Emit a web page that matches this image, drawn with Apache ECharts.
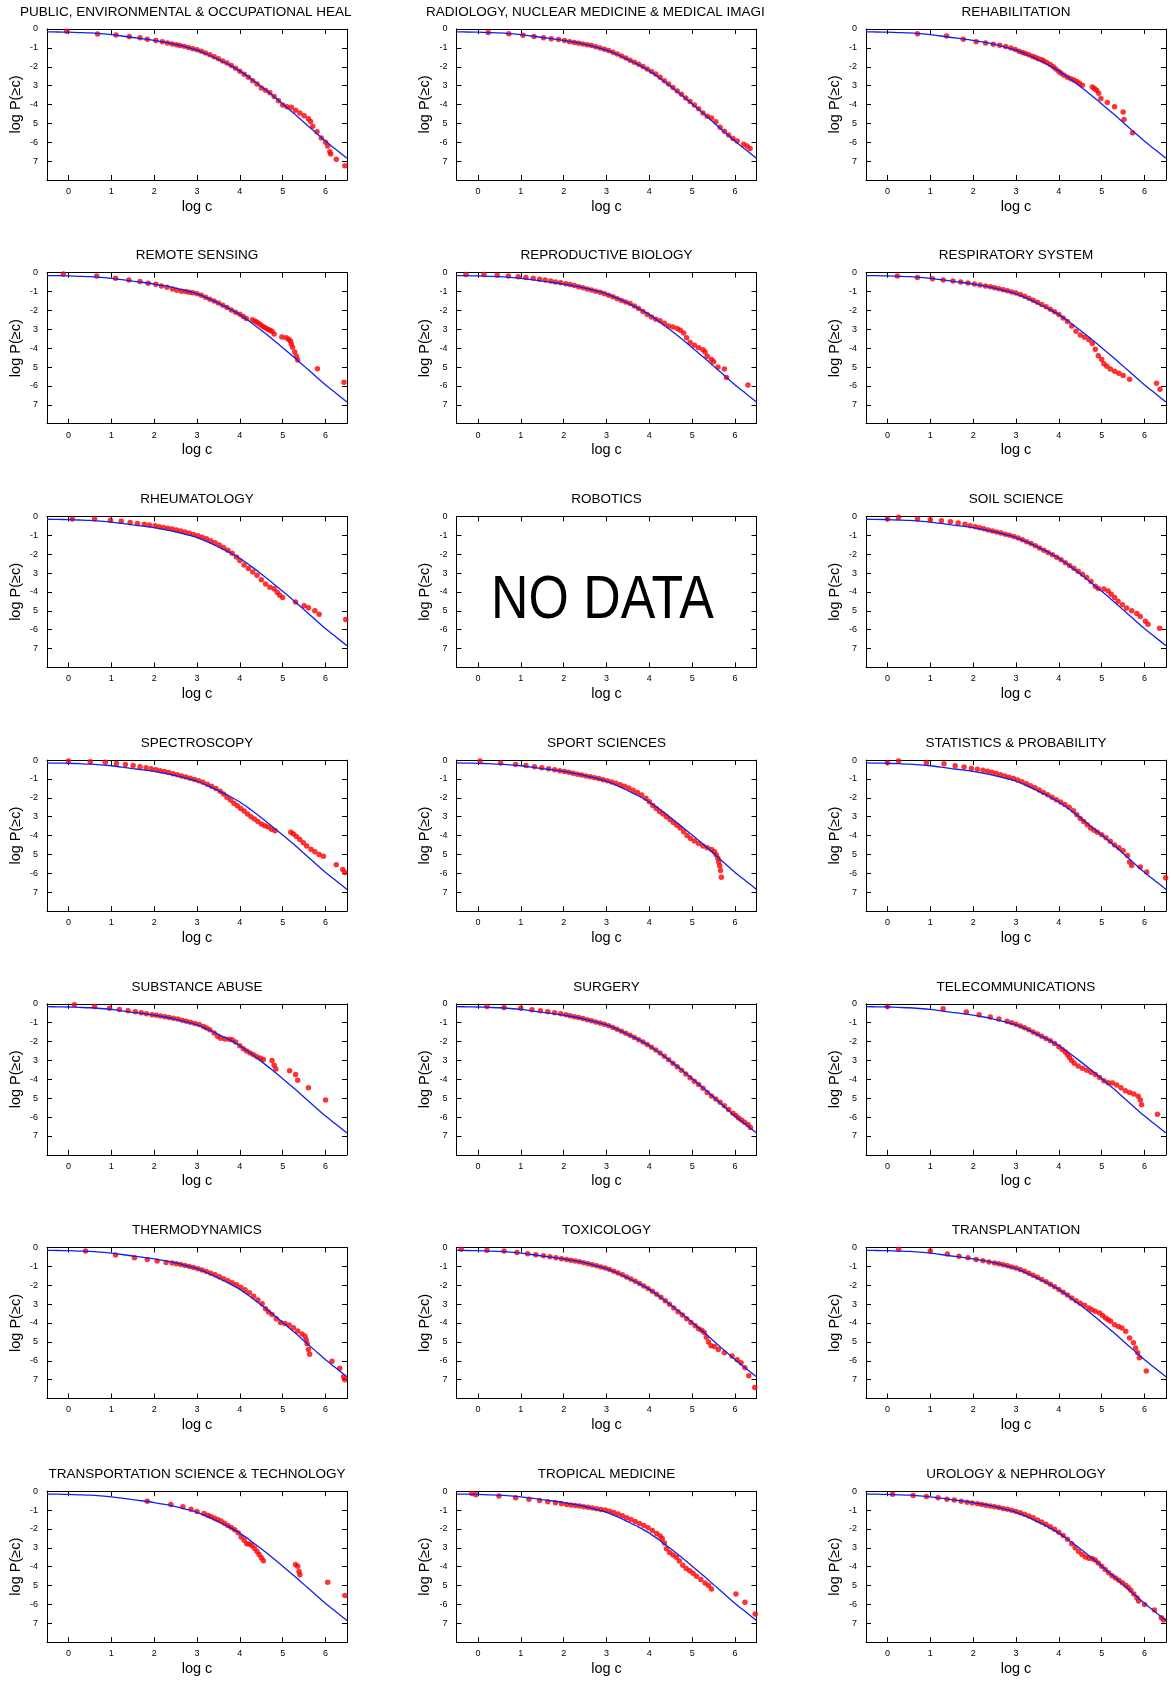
<!DOCTYPE html>
<html><head><meta charset="utf-8">
<script src="https://cdn.jsdelivr.net/npm/echarts@6/dist/echarts.min.js"></script>
<style>html,body{margin:0;padding:0;background:#fff}#chart{width:1171px;height:1684px}</style>
</head><body><div id="chart"></div>
<script>
// ---------- DATA ----------
const titles = [
  'PUBLIC, ENVIRONMENTAL & OCCUPATIONAL HEALTH','RADIOLOGY, NUCLEAR MEDICINE & MEDICAL IMAGING','REHABILITATION',
  'REMOTE SENSING','REPRODUCTIVE BIOLOGY','RESPIRATORY SYSTEM',
  'RHEUMATOLOGY','ROBOTICS','SOIL SCIENCE',
  'SPECTROSCOPY','SPORT SCIENCES','STATISTICS & PROBABILITY',
  'SUBSTANCE ABUSE','SURGERY','TELECOMMUNICATIONS',
  'THERMODYNAMICS','TOXICOLOGY','TRANSPLANTATION',
  'TRANSPORTATION SCIENCE & TECHNOLOGY','TROPICAL MEDICINE','UROLOGY & NEPHROLOGY'
];
const xTickValues = [0,1,2,3,4,5,6];
const yTickText = ['0','-1','-2','3','-4','5','-6','7',''];
const xName = 'log c';
const yName = 'log P(\u2265c)';
const noDataText = 'NO DATA';

// common fitted curve (blue)
const fitX = [-0.5,-0.25,0,0.25,0.5,0.75,1,1.25,1.5,1.75,2,2.25,2.5,2.75,3,3.25,3.5,3.75,4,4.25,4.5,4.75,5,5.25,5.5,5.75,6,6.25,6.5];
const fitY = [-0.15,-0.16,-0.17,-0.19,-0.21,-0.25,-0.3,-0.37,-0.45,-0.52,-0.6,-0.7,-0.82,-0.96,-1.12,-1.35,-1.62,-1.9,-2.22,-2.62,-3.05,-3.5,-3.97,-4.45,-4.95,-5.45,-5.95,-6.4,-6.85];

// red data points per discipline [log c, log P(>=c)]
const publicHealth = [[-0.04,-0.12],[0.68,-0.26],[1.11,-0.32],[1.42,-0.4],[1.67,-0.46],[1.84,-0.54],[2.04,-0.61],[2.19,-0.68],[2.31,-0.74],[2.42,-0.79],[2.52,-0.83],[2.6,-0.87],[2.7,-0.92],[2.8,-0.98],[2.9,-1.04],[3.0,-1.1],[3.1,-1.18],[3.2,-1.27],[3.3,-1.37],[3.4,-1.47],[3.5,-1.58],[3.6,-1.69],[3.7,-1.8],[3.8,-1.94],[3.9,-2.08],[4.0,-2.24],[4.1,-2.4],[4.2,-2.56],[4.3,-2.74],[4.4,-2.92],[4.5,-3.12],[4.6,-3.24],[4.7,-3.38],[4.8,-3.58],[4.9,-3.8],[5.0,-4.02],[5.1,-4.12],[5.2,-4.15],[5.3,-4.3],[5.4,-4.45],[5.5,-4.6],[5.6,-4.75],[5.65,-4.9],[5.7,-5.15],[5.8,-5.45],[5.9,-5.78],[6.0,-6.0],[6.05,-6.2],[6.1,-6.5],[6.12,-6.62],[6.25,-6.9],[6.45,-7.25]];
const radiology = [[0.24,-0.18],[0.72,-0.25],[1.05,-0.33],[1.31,-0.4],[1.53,-0.46],[1.71,-0.51],[1.88,-0.56],[2.02,-0.61],[2.14,-0.67],[2.25,-0.72],[2.35,-0.75],[2.45,-0.79],[2.55,-0.83],[2.65,-0.88],[2.75,-0.94],[2.85,-1.0],[2.95,-1.07],[3.05,-1.14],[3.15,-1.23],[3.25,-1.33],[3.35,-1.43],[3.45,-1.54],[3.55,-1.65],[3.65,-1.76],[3.75,-1.87],[3.85,-1.99],[3.95,-2.12],[4.05,-2.25],[4.15,-2.38],[4.25,-2.55],[4.35,-2.74],[4.45,-2.92],[4.55,-3.1],[4.65,-3.28],[4.75,-3.46],[4.85,-3.65],[4.95,-3.84],[5.05,-4.02],[5.15,-4.22],[5.25,-4.45],[5.35,-4.62],[5.45,-4.72],[5.55,-4.92],[5.65,-5.2],[5.75,-5.42],[5.85,-5.62],[5.95,-5.8],[6.05,-5.93],[6.2,-6.1],[6.28,-6.2],[6.35,-6.33]];
const rehabilitation = [[0.7,-0.25],[1.38,-0.37],[1.77,-0.54],[2.07,-0.67],[2.29,-0.74],[2.47,-0.81],[2.62,-0.86],[2.76,-0.93],[2.88,-1.0],[2.98,-1.09],[3.07,-1.18],[3.15,-1.25],[3.22,-1.3],[3.3,-1.36],[3.38,-1.44],[3.45,-1.5],[3.52,-1.57],[3.6,-1.63],[3.65,-1.7],[3.72,-1.78],[3.8,-1.88],[3.87,-2.0],[3.93,-2.12],[4.0,-2.25],[4.05,-2.35],[4.12,-2.45],[4.2,-2.55],[4.28,-2.64],[4.35,-2.7],[4.42,-2.78],[4.48,-2.88],[4.55,-2.98],[4.78,-3.07],[4.83,-3.15],[4.88,-3.24],[4.93,-3.4],[4.98,-3.68],[5.13,-3.9],[5.3,-4.12],[5.5,-4.4],[5.52,-4.8],[5.72,-5.5]];
const remoteSensing = [[-0.12,-0.07],[0.66,-0.18],[1.1,-0.3],[1.41,-0.39],[1.67,-0.47],[1.86,-0.56],[2.04,-0.61],[2.17,-0.7],[2.3,-0.77],[2.43,-0.86],[2.53,-0.93],[2.64,-0.98],[2.74,-1.0],[2.82,-1.03],[2.9,-1.06],[3.0,-1.12],[3.1,-1.2],[3.2,-1.3],[3.3,-1.4],[3.4,-1.5],[3.5,-1.6],[3.6,-1.72],[3.7,-1.85],[3.8,-1.98],[3.9,-2.1],[4.0,-2.2],[4.08,-2.32],[4.15,-2.42],[4.29,-2.49],[4.35,-2.56],[4.4,-2.63],[4.45,-2.7],[4.5,-2.78],[4.55,-2.86],[4.6,-2.93],[4.65,-2.99],[4.7,-3.05],[4.75,-3.1],[4.8,-3.25],[4.98,-3.4],[5.08,-3.45],[5.14,-3.52],[5.18,-3.62],[5.2,-3.78],[5.23,-3.95],[5.28,-4.2],[5.32,-4.42],[5.35,-4.63],[5.81,-5.09],[6.43,-5.8]];
const reproductiveBiology = [[-0.28,-0.09],[0.14,-0.09],[0.45,-0.14],[0.71,-0.18],[0.94,-0.21],[1.12,-0.25],[1.29,-0.3],[1.44,-0.35],[1.57,-0.39],[1.7,-0.44],[1.81,-0.49],[1.93,-0.53],[2.05,-0.58],[2.15,-0.63],[2.25,-0.68],[2.35,-0.74],[2.45,-0.8],[2.55,-0.86],[2.65,-0.92],[2.75,-0.98],[2.85,-1.04],[2.95,-1.12],[3.05,-1.2],[3.15,-1.28],[3.25,-1.38],[3.35,-1.47],[3.45,-1.55],[3.55,-1.63],[3.65,-1.76],[3.75,-1.9],[3.85,-2.05],[3.95,-2.22],[4.05,-2.35],[4.15,-2.47],[4.25,-2.55],[4.35,-2.68],[4.45,-2.82],[4.55,-2.88],[4.65,-2.95],[4.72,-3.05],[4.8,-3.2],[4.87,-3.45],[4.95,-3.7],[5.05,-3.85],[5.15,-3.98],[5.25,-4.08],[5.3,-4.2],[5.35,-4.42],[5.45,-4.6],[5.5,-4.72],[5.6,-5.0],[5.75,-5.1],[5.8,-5.55],[6.3,-5.95]];
const respiratorySystem = [[0.23,-0.18],[0.7,-0.25],[1.05,-0.32],[1.3,-0.39],[1.53,-0.44],[1.71,-0.49],[1.88,-0.54],[2.03,-0.6],[2.16,-0.65],[2.29,-0.7],[2.4,-0.75],[2.5,-0.8],[2.6,-0.85],[2.7,-0.9],[2.8,-0.96],[2.9,-1.02],[3.0,-1.08],[3.1,-1.16],[3.2,-1.25],[3.3,-1.35],[3.4,-1.46],[3.5,-1.57],[3.6,-1.68],[3.7,-1.8],[3.8,-1.93],[3.9,-2.07],[4.0,-2.22],[4.1,-2.4],[4.2,-2.58],[4.3,-2.82],[4.4,-3.1],[4.5,-3.3],[4.6,-3.42],[4.7,-3.55],[4.78,-3.75],[4.85,-4.05],[4.92,-4.4],[5.0,-4.6],[5.05,-4.82],[5.12,-4.95],[5.2,-5.1],[5.3,-5.22],[5.4,-5.33],[5.5,-5.45],[5.65,-5.65],[6.28,-5.86],[6.36,-6.18]];
const rheumatology = [[0.09,-0.14],[0.61,-0.14],[0.98,-0.21],[1.23,-0.26],[1.44,-0.32],[1.61,-0.37],[1.77,-0.42],[1.89,-0.46],[2.02,-0.5],[2.12,-0.55],[2.22,-0.59],[2.32,-0.63],[2.42,-0.67],[2.52,-0.72],[2.62,-0.77],[2.72,-0.83],[2.82,-0.89],[2.92,-0.96],[3.02,-1.03],[3.12,-1.1],[3.22,-1.19],[3.32,-1.29],[3.42,-1.4],[3.52,-1.52],[3.62,-1.65],[3.72,-1.79],[3.82,-1.95],[3.92,-2.15],[4.0,-2.33],[4.1,-2.58],[4.2,-2.76],[4.3,-2.94],[4.4,-3.12],[4.5,-3.35],[4.6,-3.58],[4.7,-3.75],[4.8,-3.83],[4.87,-4.02],[4.93,-4.18],[5.0,-4.3],[5.3,-4.53],[5.5,-4.74],[5.6,-4.84],[5.75,-5.0],[5.85,-5.18],[6.47,-5.46]];
const soilScience = [[0,-0.14],[0.26,-0.05],[0.7,-0.14],[1.0,-0.18],[1.26,-0.23],[1.47,-0.28],[1.65,-0.35],[1.81,-0.42],[1.93,-0.49],[2.05,-0.55],[2.15,-0.6],[2.25,-0.66],[2.35,-0.72],[2.45,-0.78],[2.55,-0.83],[2.65,-0.88],[2.75,-0.94],[2.85,-1.0],[2.95,-1.07],[3.05,-1.15],[3.15,-1.24],[3.25,-1.34],[3.35,-1.44],[3.45,-1.55],[3.55,-1.67],[3.65,-1.79],[3.75,-1.91],[3.85,-2.03],[3.95,-2.16],[4.05,-2.3],[4.15,-2.45],[4.25,-2.6],[4.35,-2.75],[4.45,-2.9],[4.55,-3.06],[4.65,-3.24],[4.75,-3.45],[4.85,-3.7],[4.92,-3.82],[5.05,-3.85],[5.15,-3.95],[5.22,-4.12],[5.3,-4.3],[5.38,-4.5],[5.48,-4.68],[5.58,-4.85],[5.7,-5.0],[5.82,-5.15],[5.9,-5.3],[6.02,-5.55],[6.08,-5.72],[6.35,-5.93]];
const spectroscopy = [[0,-0.05],[0.51,-0.09],[0.86,-0.12],[1.12,-0.18],[1.33,-0.23],[1.51,-0.28],[1.67,-0.35],[1.81,-0.4],[1.93,-0.46],[2.04,-0.51],[2.14,-0.56],[2.24,-0.61],[2.34,-0.66],[2.44,-0.72],[2.54,-0.78],[2.64,-0.84],[2.74,-0.9],[2.84,-0.96],[2.94,-1.03],[3.04,-1.1],[3.14,-1.18],[3.24,-1.28],[3.34,-1.38],[3.44,-1.5],[3.54,-1.65],[3.62,-1.8],[3.7,-1.97],[3.78,-2.12],[3.86,-2.28],[3.94,-2.42],[4.02,-2.56],[4.1,-2.7],[4.18,-2.85],[4.26,-3.0],[4.34,-3.12],[4.42,-3.25],[4.5,-3.38],[4.58,-3.48],[4.66,-3.55],[4.74,-3.66],[4.82,-3.74],[5.19,-3.82],[5.25,-3.92],[5.32,-4.05],[5.4,-4.2],[5.48,-4.38],[5.56,-4.55],[5.66,-4.72],[5.75,-4.85],[5.85,-5.0],[5.95,-5.1],[6.25,-5.55],[6.4,-5.8],[6.45,-5.95]];
const sportSciences = [[0.05,-0.05],[0.53,-0.16],[0.88,-0.23],[1.12,-0.28],[1.32,-0.35],[1.49,-0.4],[1.65,-0.46],[1.79,-0.51],[1.91,-0.56],[2.02,-0.6],[2.12,-0.65],[2.22,-0.7],[2.32,-0.75],[2.42,-0.79],[2.52,-0.84],[2.62,-0.88],[2.72,-0.93],[2.82,-0.98],[2.92,-1.04],[3.02,-1.1],[3.12,-1.16],[3.22,-1.23],[3.32,-1.3],[3.42,-1.38],[3.52,-1.48],[3.62,-1.6],[3.72,-1.72],[3.82,-1.85],[3.92,-2.02],[4.0,-2.2],[4.08,-2.4],[4.16,-2.56],[4.24,-2.72],[4.32,-2.86],[4.4,-3.0],[4.48,-3.15],[4.56,-3.3],[4.64,-3.45],[4.72,-3.6],[4.8,-3.8],[4.88,-4.0],[4.96,-4.15],[5.05,-4.28],[5.15,-4.42],[5.25,-4.55],[5.35,-4.64],[5.45,-4.73],[5.52,-4.85],[5.56,-5.02],[5.6,-5.2],[5.62,-5.4],[5.64,-5.6],[5.66,-5.85],[5.68,-6.2]];
const statistics = [[0,-0.14],[0.26,-0.05],[0.91,-0.14],[1.32,-0.19],[1.58,-0.3],[1.79,-0.37],[1.96,-0.44],[2.1,-0.49],[2.23,-0.54],[2.34,-0.59],[2.44,-0.65],[2.54,-0.71],[2.64,-0.77],[2.74,-0.84],[2.84,-0.91],[2.94,-0.98],[3.04,-1.06],[3.14,-1.15],[3.24,-1.25],[3.34,-1.36],[3.44,-1.47],[3.54,-1.59],[3.64,-1.71],[3.74,-1.84],[3.84,-1.97],[3.94,-2.1],[4.04,-2.22],[4.14,-2.35],[4.24,-2.5],[4.34,-2.68],[4.42,-2.9],[4.5,-3.1],[4.58,-3.25],[4.66,-3.42],[4.74,-3.6],[4.82,-3.72],[4.9,-3.82],[5.0,-3.95],[5.1,-4.12],[5.2,-4.3],[5.3,-4.5],[5.4,-4.65],[5.5,-4.8],[5.6,-5.05],[5.65,-5.4],[5.7,-5.58],[5.9,-5.67],[6.05,-5.93],[6.49,-6.23]];
const substanceAbuse = [[0.14,-0.05],[0.61,-0.14],[0.96,-0.23],[1.19,-0.3],[1.39,-0.37],[1.56,-0.42],[1.7,-0.47],[1.82,-0.53],[1.95,-0.58],[2.05,-0.61],[2.15,-0.64],[2.25,-0.68],[2.35,-0.72],[2.45,-0.76],[2.55,-0.81],[2.65,-0.87],[2.75,-0.93],[2.85,-0.98],[2.95,-1.04],[3.05,-1.1],[3.15,-1.2],[3.22,-1.28],[3.3,-1.38],[3.4,-1.55],[3.48,-1.72],[3.55,-1.82],[3.65,-1.86],[3.75,-1.88],[3.82,-1.9],[3.9,-2.02],[4.0,-2.22],[4.08,-2.38],[4.16,-2.5],[4.24,-2.6],[4.32,-2.7],[4.4,-2.8],[4.48,-2.88],[4.55,-2.95],[4.75,-3.0],[4.8,-3.25],[4.84,-3.45],[5.16,-3.55],[5.3,-3.75],[5.35,-4.05],[5.6,-4.45],[6.0,-5.1]];
const surgery = [[0.21,-0.14],[0.61,-0.19],[1.0,-0.23],[1.26,-0.32],[1.46,-0.37],[1.63,-0.42],[1.79,-0.47],[1.93,-0.53],[2.05,-0.58],[2.15,-0.63],[2.25,-0.68],[2.35,-0.73],[2.45,-0.78],[2.55,-0.84],[2.65,-0.9],[2.75,-0.96],[2.85,-1.02],[2.95,-1.09],[3.05,-1.16],[3.15,-1.25],[3.25,-1.35],[3.35,-1.45],[3.45,-1.56],[3.55,-1.67],[3.65,-1.78],[3.75,-1.9],[3.85,-2.03],[3.95,-2.16],[4.05,-2.3],[4.15,-2.45],[4.25,-2.61],[4.35,-2.78],[4.45,-2.96],[4.55,-3.15],[4.65,-3.34],[4.75,-3.52],[4.85,-3.72],[4.95,-3.92],[5.05,-4.1],[5.15,-4.28],[5.25,-4.48],[5.35,-4.7],[5.45,-4.88],[5.55,-5.05],[5.65,-5.22],[5.75,-5.4],[5.85,-5.6],[5.95,-5.8],[6.02,-5.92],[6.08,-6.05],[6.15,-6.15],[6.22,-6.28],[6.3,-6.4],[6.36,-6.55]];
const telecommunications = [[0,-0.14],[1.3,-0.26],[1.84,-0.44],[2.14,-0.58],[2.4,-0.7],[2.6,-0.81],[2.79,-0.93],[2.9,-1.0],[3.0,-1.08],[3.1,-1.17],[3.2,-1.27],[3.3,-1.38],[3.4,-1.49],[3.5,-1.6],[3.6,-1.72],[3.7,-1.84],[3.8,-1.96],[3.9,-2.1],[4.0,-2.27],[4.08,-2.42],[4.15,-2.55],[4.2,-2.7],[4.25,-2.85],[4.3,-3.0],[4.36,-3.15],[4.45,-3.3],[4.55,-3.42],[4.65,-3.52],[4.75,-3.62],[4.85,-3.74],[4.95,-3.9],[5.05,-4.08],[5.15,-4.18],[5.25,-4.2],[5.35,-4.3],[5.45,-4.45],[5.55,-4.6],[5.65,-4.7],[5.75,-4.78],[5.85,-4.9],[5.9,-5.1],[5.93,-5.35],[6.3,-5.85]];
const thermodynamics = [[0.4,-0.19],[1.1,-0.4],[1.54,-0.54],[1.84,-0.63],[2.07,-0.72],[2.28,-0.79],[2.42,-0.82],[2.52,-0.86],[2.62,-0.9],[2.72,-0.95],[2.82,-1.0],[2.92,-1.06],[3.02,-1.12],[3.12,-1.19],[3.22,-1.27],[3.32,-1.36],[3.42,-1.45],[3.52,-1.55],[3.62,-1.65],[3.72,-1.76],[3.82,-1.87],[3.92,-1.98],[4.02,-2.1],[4.12,-2.24],[4.22,-2.4],[4.32,-2.58],[4.42,-2.78],[4.52,-2.98],[4.6,-3.25],[4.67,-3.42],[4.75,-3.55],[4.85,-3.78],[4.95,-3.98],[5.05,-4.03],[5.15,-4.1],[5.25,-4.25],[5.35,-4.42],[5.45,-4.58],[5.52,-4.7],[5.55,-4.9],[5.57,-5.1],[5.6,-5.4],[5.63,-5.65],[6.15,-6.02],[6.33,-6.4],[6.42,-6.85],[6.45,-7.0]];
const toxicology = [[-0.39,-0.09],[0.21,-0.14],[0.61,-0.19],[0.91,-0.26],[1.16,-0.33],[1.35,-0.39],[1.53,-0.44],[1.68,-0.49],[1.82,-0.54],[1.95,-0.6],[2.07,-0.64],[2.17,-0.68],[2.27,-0.72],[2.37,-0.76],[2.47,-0.81],[2.57,-0.86],[2.67,-0.91],[2.77,-0.97],[2.87,-1.03],[2.97,-1.09],[3.07,-1.17],[3.17,-1.26],[3.27,-1.35],[3.37,-1.45],[3.47,-1.56],[3.57,-1.67],[3.67,-1.79],[3.77,-1.91],[3.87,-2.04],[3.97,-2.17],[4.07,-2.32],[4.17,-2.48],[4.27,-2.64],[4.37,-2.82],[4.47,-3.0],[4.57,-3.2],[4.67,-3.4],[4.77,-3.58],[4.87,-3.78],[4.97,-3.97],[5.07,-4.15],[5.15,-4.3],[5.22,-4.38],[5.28,-4.5],[5.33,-4.75],[5.38,-5.0],[5.44,-5.2],[5.52,-5.25],[5.61,-5.4],[5.75,-5.58],[5.93,-5.75],[6.05,-5.95],[6.14,-6.1],[6.23,-6.37],[6.32,-6.8],[6.46,-7.42]];
const transplantation = [[0.26,-0.09],[1.0,-0.19],[1.4,-0.35],[1.67,-0.46],[1.88,-0.54],[2.07,-0.63],[2.23,-0.7],[2.37,-0.77],[2.5,-0.82],[2.6,-0.86],[2.7,-0.91],[2.8,-0.97],[2.9,-1.03],[3.0,-1.09],[3.1,-1.17],[3.2,-1.26],[3.3,-1.36],[3.4,-1.47],[3.5,-1.58],[3.6,-1.7],[3.7,-1.82],[3.8,-1.95],[3.9,-2.08],[4.0,-2.22],[4.1,-2.37],[4.2,-2.52],[4.3,-2.68],[4.4,-2.82],[4.5,-2.95],[4.6,-3.06],[4.7,-3.2],[4.77,-3.3],[4.85,-3.38],[4.95,-3.47],[5.02,-3.6],[5.09,-3.74],[5.15,-3.83],[5.21,-3.91],[5.3,-4.09],[5.39,-4.18],[5.47,-4.26],[5.56,-4.44],[5.65,-4.79],[5.74,-5.05],[5.79,-5.32],[5.84,-5.58],[5.88,-5.84],[6.04,-6.54]];
const transportation = [[1.84,-0.53],[2.39,-0.7],[2.67,-0.82],[2.86,-0.96],[3.0,-1.07],[3.16,-1.18],[3.25,-1.27],[3.32,-1.34],[3.4,-1.42],[3.48,-1.5],[3.56,-1.58],[3.64,-1.7],[3.72,-1.82],[3.8,-1.92],[3.88,-2.04],[3.96,-2.2],[4.03,-2.42],[4.1,-2.6],[4.16,-2.78],[4.22,-2.8],[4.28,-2.88],[4.34,-3.02],[4.4,-3.2],[4.45,-3.35],[4.5,-3.52],[4.55,-3.68],[5.3,-3.89],[5.35,-3.98],[5.38,-4.25],[5.4,-4.42],[6.05,-4.82],[6.45,-5.53]];
const tropicalMedicine = [[-0.14,-0.12],[-0.05,-0.19],[0.49,-0.25],[0.88,-0.35],[1.19,-0.42],[1.44,-0.49],[1.63,-0.56],[1.81,-0.61],[1.95,-0.67],[2.07,-0.7],[2.17,-0.73],[2.27,-0.76],[2.37,-0.79],[2.47,-0.82],[2.57,-0.85],[2.67,-0.89],[2.77,-0.93],[2.87,-0.97],[2.97,-1.0],[3.07,-1.06],[3.17,-1.13],[3.27,-1.21],[3.37,-1.3],[3.47,-1.4],[3.57,-1.5],[3.67,-1.6],[3.77,-1.71],[3.87,-1.82],[3.97,-1.94],[4.07,-2.08],[4.17,-2.24],[4.25,-2.38],[4.3,-2.5],[4.35,-2.75],[4.4,-3.05],[4.47,-3.25],[4.55,-3.38],[4.63,-3.5],[4.7,-3.7],[4.78,-3.92],[4.86,-4.1],[4.94,-4.22],[5.02,-4.35],[5.1,-4.5],[5.2,-4.68],[5.3,-4.86],[5.38,-5.0],[5.45,-5.18],[6.02,-5.44],[6.23,-5.88],[6.47,-6.5]];
const urology = [[0.12,-0.16],[0.6,-0.23],[0.91,-0.28],[1.18,-0.35],[1.39,-0.42],[1.56,-0.47],[1.72,-0.53],[1.86,-0.58],[1.98,-0.63],[2.1,-0.67],[2.2,-0.71],[2.3,-0.75],[2.4,-0.79],[2.5,-0.83],[2.6,-0.87],[2.7,-0.91],[2.8,-0.96],[2.9,-1.01],[3.0,-1.07],[3.1,-1.14],[3.2,-1.22],[3.3,-1.31],[3.4,-1.41],[3.5,-1.52],[3.6,-1.63],[3.7,-1.75],[3.8,-1.88],[3.9,-2.02],[4.0,-2.17],[4.1,-2.35],[4.2,-2.55],[4.3,-2.78],[4.38,-3.0],[4.46,-3.2],[4.54,-3.35],[4.62,-3.48],[4.7,-3.55],[4.78,-3.58],[4.85,-3.65],[4.92,-3.8],[5.0,-3.98],[5.08,-4.15],[5.16,-4.32],[5.24,-4.48],[5.32,-4.6],[5.4,-4.72],[5.48,-4.85],[5.56,-4.98],[5.62,-5.1],[5.68,-5.25],[5.75,-5.45],[5.82,-5.65],[5.86,-5.82],[6.0,-6.0],[6.23,-6.3],[6.39,-6.7],[6.44,-6.82]];

const panelPoints = [publicHealth, radiology, rehabilitation, remoteSensing, reproductiveBiology, respiratorySystem,
  rheumatology, null, soilScience, spectroscopy, sportSciences, statistics,
  substanceAbuse, surgery, telecommunications, thermodynamics, toxicology, transplantation,
  transportation, tropicalMedicine, urology];

// ---------- LAYOUT ----------
const FONT = '"Liberation Sans", Arial, Helvetica, sans-serif';
const G_LEFT0 = 47, G_DX = 409.5, G_TOP0 = 29, G_DY = 243.7, G_W = 300, G_H = 151;
const titleClip = {0: {x: 20, w: 338}, 1: {x: 426, w: 344}};

const fitData = fitX.map((x, k) => [x, fitY[k]]);
const grids = [], xAxes = [], yAxes = [], series = [], titleOpts = [], graphics = [];

titles.forEach((t, i) => {
  const r = Math.floor(i / 3), c = i % 3;
  const left = G_LEFT0 + c * G_DX, top = G_TOP0 + r * G_DY;
  grids.push({left: left, top: top, width: G_W, height: G_H, outerBoundsMode: 'none', containLabel: false});
  const tick = {show: true, inside: true, length: 5, lineStyle: {color: '#000', width: 1}};
  const line = {show: true, onZero: false, lineStyle: {color: '#000', width: 1}};
  xAxes.push({type: 'value', gridIndex: i, position: 'bottom', min: -0.5, max: 6.5,
    name: xName, nameLocation: 'middle', nameGap: 19,
    nameTextStyle: {fontFamily: FONT, fontSize: 14.5, color: '#000'},
    axisLine: line, axisTick: Object.assign({customValues: xTickValues}, tick),
    axisLabel: {customValues: xTickValues, margin: 7, fontFamily: FONT, fontSize: 9, color: '#000'},
    splitLine: {show: false}});
  xAxes.push({type: 'value', gridIndex: i, position: 'top', min: -0.5, max: 6.5,
    axisLine: line, axisTick: Object.assign({customValues: xTickValues}, tick),
    axisLabel: {show: false}, splitLine: {show: false}});
  yAxes.push({type: 'value', gridIndex: i, position: 'left', min: -8, max: 0, interval: 1,
    name: yName, nameLocation: 'middle', nameGap: 24, nameRotate: 90,
    nameTextStyle: {fontFamily: FONT, fontSize: 14.5, color: '#000'},
    axisLine: line, axisTick: tick,
    axisLabel: {margin: 9, fontFamily: FONT, fontSize: 9, color: '#000',
      formatter: v => yTickText[Math.round(-v)] || ''},
    splitLine: {show: false}});
  yAxes.push({type: 'value', gridIndex: i, position: 'right', min: -8, max: 0, interval: 1,
    axisLine: line, axisTick: tick, axisLabel: {show: false}, splitLine: {show: false}});

  const clip = titleClip[i];
  titleOpts.push(clip ? {
    text: t, left: clip.x, top: top - 24, textAlign: 'left', padding: 0,
    textStyle: {fontFamily: FONT, fontSize: 13.5, fontWeight: 'normal', color: '#000', width: clip.w, overflow: 'truncate', ellipsis: ''}
  } : {
    text: t, left: left + G_W / 2, top: top - 24, textAlign: 'center', padding: 0,
    textStyle: {fontFamily: FONT, fontSize: 13.5, fontWeight: 'normal', color: '#000'}
  });

  const pts = panelPoints[i];
  if (pts) {
    series.push({type: 'scatter', xAxisIndex: 2 * i, yAxisIndex: 2 * i, data: pts,
      symbol: 'circle', symbolSize: 5.5, itemStyle: {color: '#ff0000'}, z: 2, silent: true});
    series.push({type: 'line', xAxisIndex: 2 * i, yAxisIndex: 2 * i, data: fitData,
      smooth: 0.3, showSymbol: false, lineStyle: {color: '#1020f0', width: 1.3}, z: 3, silent: true});
  } else {
    graphics.push({type: 'text', x: left + 146, y: top + 85, scaleX: 0.85,
      style: {text: noDataText, font: '61px ' + FONT, fill: '#000',
        align: 'center', verticalAlign: 'middle', textAlign: 'center', textVerticalAlign: 'middle'}});
  }
});

const chart = echarts.init(document.getElementById('chart'), null, {renderer: 'canvas'});
chart.setOption({
  animation: false,
  backgroundColor: '#fff',
  textStyle: {fontFamily: FONT},
  title: titleOpts,
  grid: grids,
  xAxis: xAxes,
  yAxis: yAxes,
  series: series,
  graphic: graphics
});
</script></body></html>
